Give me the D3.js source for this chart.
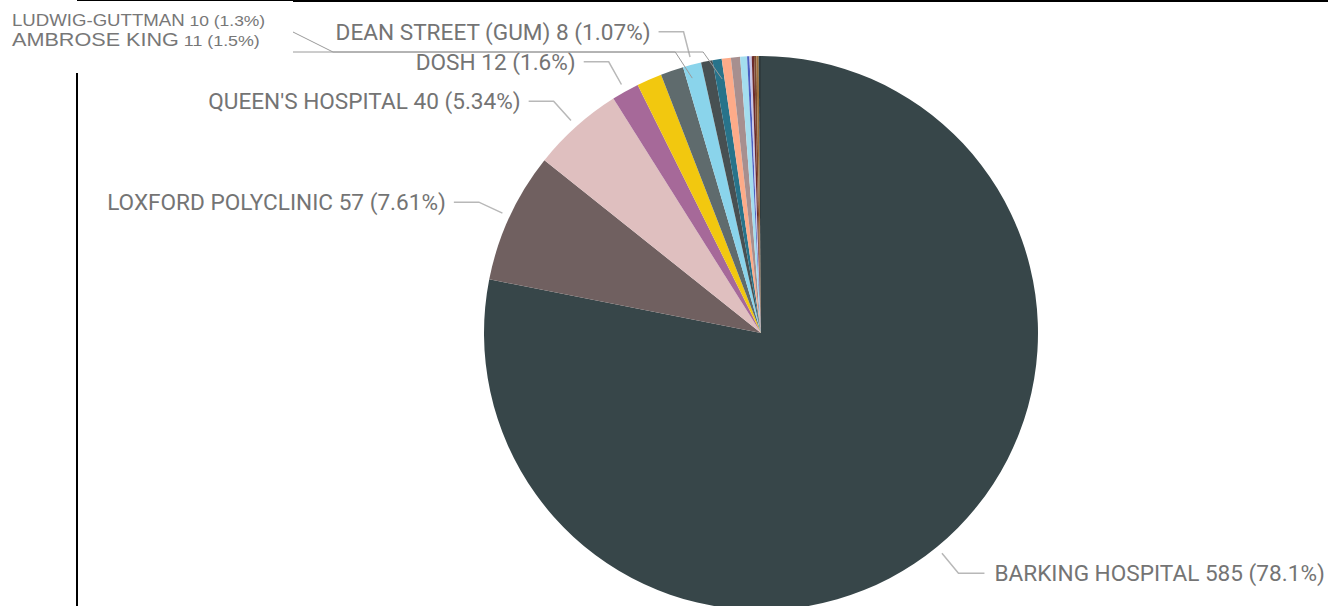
<!DOCTYPE html>
<html>
<head>
<meta charset="utf-8">
<script src="https://cdn.jsdelivr.net/npm/d3@7"></script>
<style>
  html, body { margin: 0; padding: 0; background: #fff; overflow: hidden; }
  svg { display: block; }
</style>
</head>
<body>
<svg class="pie-chart" width="1328" height="606"></svg>
<script>
// data (total 749)
let sites = ['BARKING HOSPITAL', 'LOXFORD POLYCLINIC', "QUEEN'S HOSPITAL", 'DOSH',
             'AMBROSE KING', 'LUDWIG-GUTTMAN', 'DEAN STREET (GUM)', 'SITE 8', 'SITE 9',
             'SITE 10', 'SITE 11', 'SITE 12', 'SITE 13', 'SITE 14', 'SITE 15',
             'SITE 16', 'SITE 17', 'SITE 18'];
let counts = [585, 57, 40, 12, 11, 10, 8, 5, 4, 4, 4, 3, 1, 1, 1, 1, 1, 1];
let sliceColors = ['#374649', '#706060', '#DFBFBF', '#A66999', '#F2C80F', '#5F6B6D',
                   '#8AD4EB', '#475052', '#28738A', '#FDAB89', '#A78F8F', '#A4DDEE',
                   '#4A5FC1', '#C9C6E8', '#6B2A2A', '#7A4A30', '#A0703A', '#2F3B3E'];
// slices that get a data label from the chart itself
let labelledSites = ['BARKING HOSPITAL', 'LOXFORD POLYCLINIC', "QUEEN'S HOSPITAL", 'DOSH', 'DEAN STREET (GUM)'];
// hand-written notes added on top of the chart
let noteSites = ['LUDWIG-GUTTMAN', 'AMBROSE KING'];

let chartParams = {
  width: 1328,
  height: 606,
  cx: 761,
  cy: 333,
  radius: 277
};

let data = sites.map(function (s, i) {
  return { site: s, count: counts[i], color: sliceColors[i] };
});
let total = d3.sum(counts);

let svg = d3.select('.pie-chart');

// frame lines
svg.append('rect').attr('x', 77).attr('y', 0).attr('width', 216).attr('height', 1).attr('fill', '#000');
svg.append('rect').attr('x', 293).attr('y', 0).attr('width', 1035).attr('height', 2).attr('fill', '#000');
svg.append('rect').attr('x', 76).attr('y', 73).attr('width', 2).attr('height', 533).attr('fill', '#000');

let pie = d3.pie()
  .sort(null)
  .value(function (d) { return d.count; });

let arcs = pie(data);

let arc = d3.arc()
  .innerRadius(0)
  .outerRadius(chartParams.radius);

let g = svg.append('g')
  .attr('transform', 'translate(' + chartParams.cx + ',' + chartParams.cy + ')');

g.selectAll('.slice')
  .data(arcs)
  .enter()
  .append('path')
  .attr('class', 'slice')
  .attr('d', arc)
  .attr('fill', function (d) { return d.data.color; });

let polar = function (angle, r) {
  return [Math.sin(angle) * r, -Math.cos(angle) * r];
};

let pctFormat = d3.format('.3~r');

// data labels with elbow leaders
let labelArcs = arcs.filter(function (d) { return labelledSites.indexOf(d.data.site) >= 0; });

labelArcs.forEach(function (d) {
  let mid = (d.startAngle + d.endAngle) / 2,
      p0 = polar(mid, chartParams.radius + 8),
      p1 = polar(mid, chartParams.radius + 34),
      right = p1[0] > 0,
      p2 = [p1[0] + (right ? 26 : -25), p1[1]];

  g.append('polyline')
    .attr('points', [p0, p1, p2].map(function (p) { return p.join(','); }).join(' '))
    .attr('fill', 'none')
    .attr('stroke', '#b8b8b8')
    .attr('stroke-width', 1.5);

  g.append('text')
    .attr('x', p2[0] + (right ? 10 : -8))
    .attr('y', p2[1])
    .attr('dy', '0.35em')
    .attr('text-anchor', right ? 'start' : 'end')
    .style('font-family', 'Roboto, sans-serif')
    .style('font-size', '22.6px')
    .style('fill', '#747474')
    .text(d.data.site + ' ' + d.data.count + ' (' + pctFormat(d.data.count / total * 100) + '%)');
});

// hand-written notes in the top left corner
let noteFormat = d3.format('.2~r');
let noteSizes = [16.2, 18.8];
let noteNumSizes = [15.2, 15.5];
let noteBaselines = [26, 46];

noteSites.forEach(function (s, i) {
  let d = data.filter(function (e) { return e.site === s; })[0];
  let t = svg.append('g')
    .attr('transform', 'translate(12,' + noteBaselines[i] + ') scale(1.15,1)')
    .append('text')
    .style('font-family', '"Liberation Sans", Arial, sans-serif')
    .style('fill', '#777');
  t.append('tspan').style('font-size', noteSizes[i] + 'px').text(d.site);
  t.append('tspan').style('font-size', noteNumSizes[i] + 'px').text(' ' + d.count + ' (' + noteFormat(d.count / total * 100) + '%)');
});

// note leaders: they end at points given as (position along the pie, radius)
let valueAngle = d3.scaleLinear().domain([0, total]).range([0, 2 * Math.PI]);
let toPage = function (v, r) {
  let p = polar(valueAngle(v), r);
  return [p[0] + chartParams.cx, p[1] + chartParams.cy];
};
let noteEnds = [toPage(717.6, 264), toPage(730.9, 257)];
let noteLeaders = [
  [[293, 32], [333, 52], [noteEnds[0][0] - 17, 52], noteEnds[0]],
  [[293, 52], [noteEnds[1][0] - 19, 52], noteEnds[1]]
];
noteLeaders.forEach(function (pts) {
  svg.append('polyline')
    .attr('points', pts.map(function (p) { return p.join(','); }).join(' '))
    .attr('fill', 'none')
    .attr('stroke', '#9a9a9a')
    .attr('stroke-width', 1);
});
</script>
</body>
</html>
